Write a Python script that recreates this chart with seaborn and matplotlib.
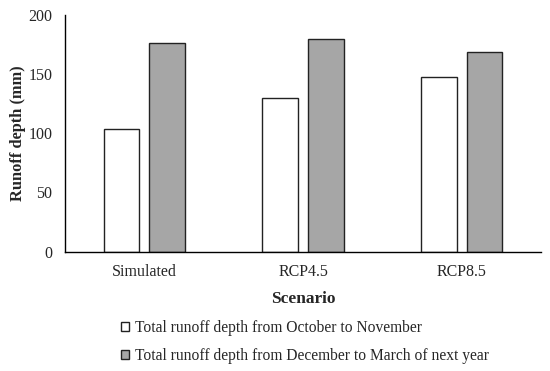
import pandas as pd
import matplotlib.pyplot as plt
import seaborn as sns

# Dữ liệu
scenarios = ['Simulated', 'RCP4.5', 'RCP8.5']
oct_nov = [103.7, 130.3, 147.9]
dec_mar = [176.5, 180.2, 168.9]
series_names = ['Total runoff depth from October to November',
                'Total runoff depth from December to March of next year']
y_ticks = [0, 50, 100, 150, 200]

df = pd.DataFrame({
    'Scenario': scenarios * 2,
    'Runoff': oct_nov + dec_mar,
    'Period': [series_names[0]] * 3 + [series_names[1]] * 3,
})

sns.set_style('white')
plt.rcParams['font.family'] = ['Liberation Serif', 'DejaVu Serif']

fig = plt.figure(figsize=(5.5, 3.71), dpi=100)
ax = fig.add_axes([0.118, 0.322, 0.866, 0.637])

sns.barplot(data=df, x='Scenario', y='Runoff', hue='Period',
            palette=['white', '#a6a6a6'], edgecolor='#222222', linewidth=1.0,
            width=0.575, gap=0.22, ax=ax)

ax.set_xlim(-0.5, 2.5)
ax.set_ylim(0, 200)
ax.set_yticks(y_ticks)
ax.tick_params(axis='y', direction='out', length=4, width=1, color='black',
               labelsize=11.5, pad=5)
ax.tick_params(axis='x', length=0, labelsize=11.5, pad=9)
for s in ['top', 'right']:
    ax.spines[s].set_visible(False)
for s in ['left', 'bottom']:
    ax.spines[s].set_color('black')
    ax.spines[s].set_linewidth(1.0)

ax.set_xlabel('Scenario', fontsize=12.5, fontweight='bold', labelpad=8)
ax.set_ylabel('Runoff depth (mm)', fontsize=11.8, fontweight='bold', labelpad=2)

handles, labels = ax.get_legend_handles_labels()
ax.get_legend().remove()
fig.legend(handles, labels, loc='upper left', bbox_to_anchor=(0.208, 0.155),
           frameon=False, fontsize=11.2, handlelength=0.55, handleheight=0.55,
           handletextpad=0.35, labelspacing=0.8, borderaxespad=0)

plt.savefig('out.png', dpi=100)
